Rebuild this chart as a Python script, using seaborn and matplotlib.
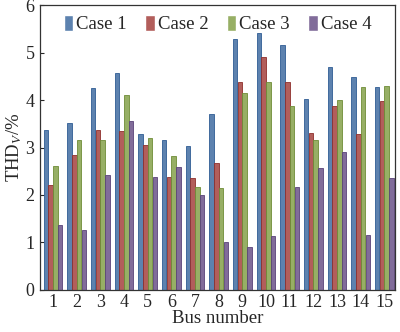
import matplotlib
matplotlib.use("Agg")
import matplotlib.pyplot as plt
import seaborn as sns
import pandas as pd

buses = [str(i) for i in range(1, 16)]
cases = ["Case 1", "Case 2", "Case 3", "Case 4"]
case1 = [3.38, 3.52, 4.25, 4.58, 3.28, 3.15, 3.03, 3.71, 5.30, 5.42, 5.17, 4.02, 4.70, 4.49, 4.27]
case2 = [2.21, 2.85, 3.38, 3.35, 3.06, 2.38, 2.35, 2.68, 4.39, 4.92, 4.39, 3.31, 3.88, 3.28, 3.99]
case3 = [2.61, 3.15, 3.15, 4.11, 3.21, 2.82, 2.17, 2.15, 4.16, 4.39, 3.88, 3.15, 4.01, 4.27, 4.29]
case4 = [1.36, 1.26, 2.42, 3.57, 2.37, 2.59, 2.01, 1.00, 0.90, 1.14, 2.17, 2.57, 2.90, 1.16, 2.36]
colors = ["#4F81BD", "#C0504D", "#9BBB59", "#8064A2"]
edges = ["#2F5C94", "#8E2F2C", "#6E8C37", "#5A4379"]

rows = []
for c, vals in zip(cases, [case1, case2, case3, case4]):
    for b, v in zip(buses, vals):
        rows.append({"bus": b, "case": c, "thd": v})
df = pd.DataFrame(rows)

sns.set_theme(style="ticks")
plt.rcParams["font.family"] = ["Liberation Serif", "DejaVu Serif"]
plt.rcParams["mathtext.fontset"] = "custom"
plt.rcParams["mathtext.rm"] = "Liberation Serif"
plt.rcParams["mathtext.it"] = "Liberation Serif:italic"

fig = plt.figure(figsize=(4.0, 3.32), dpi=100)
ax = fig.add_axes([0.10, 0.127, 0.8875, 0.857])
sns.barplot(data=df, x="bus", y="thd", hue="case", order=buses, hue_order=cases,
            palette=colors, width=0.8, gap=0.05, ax=ax, errorbar=None)

for i, cont in enumerate(ax.containers):
    for bar in cont:
        bar.set_edgecolor(edges[i])
        bar.set_linewidth(0.6)

ax.set_ylim(0, 6)
ax.set_xlim(-0.55, 14.45)
ax.set_yticks(range(0, 7))
ax.tick_params(axis="y", direction="in", length=3, width=0.8, labelsize=13, pad=4)
ax.tick_params(axis="x", length=0, labelsize=13, pad=3)
ax.set_xlabel("Bus number", fontsize=13.5, labelpad=-1)
ax.set_ylabel(r"THD$_{\mathit{V}}$/%", fontsize=13.5, labelpad=1)
for s in ax.spines.values():
    s.set_color("#333333")
    s.set_linewidth(0.9)

handles, labels = ax.get_legend_handles_labels()
ax.legend(handles, labels, ncol=4, frameon=False, loc="upper center",
          bbox_to_anchor=(0.5, 1.025), fontsize=13.5, handlelength=0.5,
          handleheight=0.9, handletextpad=0.15, columnspacing=1.0)

fig.savefig("out.png", dpi=100)
